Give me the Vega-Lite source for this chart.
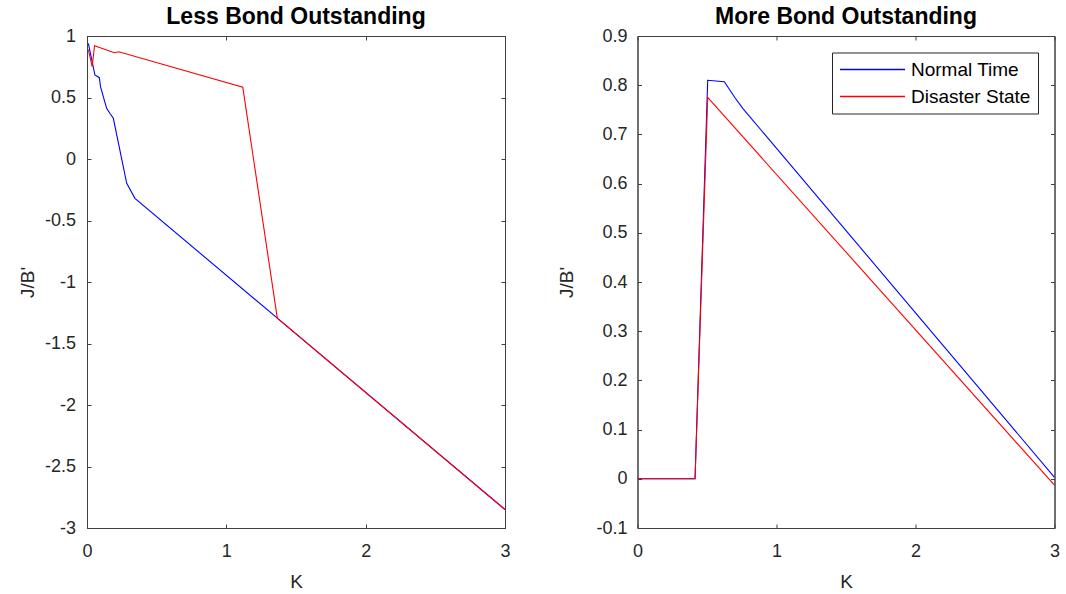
{
  "$schema": "https://vega.github.io/schema/vega-lite/v6.json",
  "background": "white",
  "padding": {"left": 18, "top": 5, "right": 5, "bottom": 0},
  "spacing": 45.5,
  "datasets": {
    "less": [
      {"state": "Normal Time", "K": 0.0096, "J": 0.94},
      {"state": "Normal Time", "K": 0.057, "J": 0.683},
      {"state": "Normal Time", "K": 0.0885, "J": 0.661},
      {"state": "Normal Time", "K": 0.097, "J": 0.588},
      {"state": "Normal Time", "K": 0.117, "J": 0.507},
      {"state": "Normal Time", "K": 0.141, "J": 0.412},
      {"state": "Normal Time", "K": 0.165, "J": 0.37},
      {"state": "Normal Time", "K": 0.189, "J": 0.331},
      {"state": "Normal Time", "K": 0.285, "J": -0.198},
      {"state": "Normal Time", "K": 0.344, "J": -0.32},
      {"state": "Normal Time", "K": 1.366, "J": -1.294},
      {"state": "Normal Time", "K": 3, "J": -2.85},
      {"state": "Disaster State", "K": 0.0096, "J": 0.89},
      {"state": "Disaster State", "K": 0.037, "J": 0.75},
      {"state": "Disaster State", "K": 0.054, "J": 0.921},
      {"state": "Disaster State", "K": 0.197, "J": 0.864},
      {"state": "Disaster State", "K": 0.228, "J": 0.872},
      {"state": "Disaster State", "K": 1.118, "J": 0.583},
      {"state": "Disaster State", "K": 1.366, "J": -1.294},
      {"state": "Disaster State", "K": 3, "J": -2.85}
    ],
    "more": [
      {"state": "Normal Time", "K": 0, "J": 0},
      {"state": "Normal Time", "K": 0.414, "J": 0},
      {"state": "Normal Time", "K": 0.505, "J": 0.81},
      {"state": "Normal Time", "K": 0.625, "J": 0.807},
      {"state": "Normal Time", "K": 0.7, "J": 0.775},
      {"state": "Normal Time", "K": 0.76, "J": 0.752},
      {"state": "Normal Time", "K": 3, "J": 0.003},
      {"state": "Disaster State", "K": 0, "J": 0},
      {"state": "Disaster State", "K": 0.414, "J": 0},
      {"state": "Disaster State", "K": 0.505, "J": 0.775},
      {"state": "Disaster State", "K": 3, "J": -0.013}
    ]
  },
  "hconcat": [
    {
      "width": 418,
      "height": 492,
      "title": {"text": "Less Bond Outstanding", "frame": "group", "anchor": "middle", "baseline": "alphabetic", "offset": -20},
      "data": {"name": "less"},
      "layer": [
        {
          "mark": {"type": "line", "strokeWidth": 1.1, "clip": true},
          "encoding": {
            "x": {"field": "K", "type": "quantitative", "scale": {"domain": [0, 3], "nice": false, "zero": false},
              "axis": {"values": [0, 1, 2, 3], "title": "K", "format": "d", "labelPadding": 18, "titleY": 44, "titleBaseline": "top"}},
            "y": {"field": "J", "type": "quantitative", "scale": {"domain": [-3, 1], "nice": false, "zero": false},
              "axis": {"values": [-3, -2.5, -2, -1.5, -1, -0.5, 0, 0.5, 1], "title": "J/B'", "labelPadding": 15.5,
                "labelExpr": "replace(format(datum.value, '~g'), '\u2212', '-')", "titleX": -59.5, "titleY": 246, "titleBaseline": "middle"}},
            "color": {"field": "state", "type": "nominal", "sort": ["Normal Time", "Disaster State"],
              "scale": {"domain": ["Normal Time", "Disaster State"], "range": ["#0000ff", "#ff0000"]}, "legend": null}
          }
        },
        {
          "mark": {"type": "point", "opacity": 0},
          "encoding": {
            "x": {"field": "K", "type": "quantitative", "axis": {"orient": "top", "values": [0, 1, 2, 3], "labels": false, "title": null}},
            "y": {"field": "J", "type": "quantitative", "axis": {"orient": "right", "values": [-3, -2.5, -2, -1.5, -1, -0.5, 0, 0.5, 1], "labels": false, "title": null}}
          }
        }
      ],
      "resolve": {"axis": {"x": "independent", "y": "independent"}}
    },
    {
      "width": 417,
      "height": 492,
      "title": {"text": "More Bond Outstanding", "frame": "group", "anchor": "middle", "baseline": "alphabetic", "offset": -20},
      "data": {"name": "more"},
      "layer": [
        {
          "mark": {"type": "line", "strokeWidth": 1.1, "clip": true},
          "encoding": {
            "x": {"field": "K", "type": "quantitative", "scale": {"domain": [0, 3], "nice": false, "zero": false},
              "axis": {"values": [0, 1, 2, 3], "title": "K", "format": "d", "labelPadding": 18, "titleY": 44, "titleBaseline": "top"}},
            "y": {"field": "J", "type": "quantitative", "scale": {"domain": [-0.1, 0.9], "nice": false, "zero": false},
              "axis": {"values": [-0.1, 0, 0.1, 0.2, 0.3, 0.4, 0.5, 0.6, 0.7, 0.8, 0.9], "title": "J/B'", "labelPadding": 14.5,
                "labelExpr": "replace(format(datum.value, '~g'), '\u2212', '-')", "titleX": -71.5, "titleY": 246, "titleBaseline": "middle"}},
            "color": {"field": "state", "type": "nominal", "sort": ["Normal Time", "Disaster State"],
              "scale": {"domain": ["Normal Time", "Disaster State"], "range": ["#0000ff", "#ff0000"]},
              "legend": {"orient": "none", "legendX": 194.5, "legendY": 16.5, "title": null, "symbolType": "stroke", "symbolSize": 4225,
                "symbolStrokeWidth": 1.5, "clipHeight": 20, "rowPadding": 7, "labelFontSize": 19, "labelColor": "#000000", "labelOffset": 5,
                "padding": 7, "strokeColor": "#262626", "fillColor": "#ffffff", "labelFont": "Liberation Sans"}}
          }
        },
        {
          "mark": {"type": "point", "opacity": 0},
          "encoding": {
            "x": {"field": "K", "type": "quantitative", "axis": {"orient": "top", "values": [0, 1, 2, 3], "labels": false, "title": null}},
            "y": {"field": "J", "type": "quantitative", "axis": {"orient": "right", "values": [-0.1, 0, 0.1, 0.2, 0.3, 0.4, 0.5, 0.6, 0.7, 0.8, 0.9], "labels": false, "title": null}}
          }
        }
      ],
      "resolve": {"axis": {"x": "independent", "y": "independent"}, "scale": {"color": "independent"}}
    }
  ],
  "resolve": {"scale": {"color": "independent"}},
  "config": {
    "font": "Liberation Sans",
    "view": {"stroke": "#404040", "strokeWidth": 1},
    "axis": {
      "grid": false,
      "domainColor": "#404040",
      "tickColor": "#404040",
      "tickSize": -4,
      "labelFontSize": 18,
      "labelColor": "#262626",
      "titleFontSize": 19,
      "titleFontWeight": "normal",
      "titleColor": "#262626",
      "labelFlush": false,
      "labelOverlap": false
    },
    "title": {"fontSize": 23, "fontWeight": "bold", "color": "#000000"}
  }
}
